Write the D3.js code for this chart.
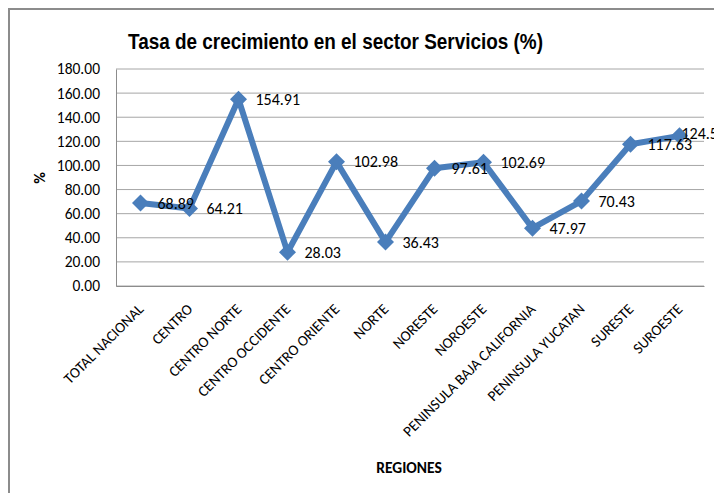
<!DOCTYPE html>
<html>
<head>
<meta charset="utf-8">
<script src="https://cdn.jsdelivr.net/npm/d3@7"></script>
<style>
	body { margin: 0; background: #fff; }
	text { font-family: Carlito, Lato, "Open Sans", sans-serif; fill: #000; }
	.grid line { stroke: #a6a6a6; stroke-width: 1; }
</style>
</head>
<body>
<svg width="714" height="493"></svg>
<script>
	var regiones = ['TOTAL NACIONAL', 'CENTRO', 'CENTRO NORTE', 'CENTRO OCCIDENTE', 'CENTRO ORIENTE',
		'NORTE', 'NORESTE', 'NOROESTE', 'PENINSULA BAJA CALIFORNIA', 'PENINSULA YUCATAN', 'SURESTE', 'SUROESTE'];
	var tasas = [68.89, 64.21, 154.91, 28.03, 102.98, 36.43, 97.61, 102.69, 47.97, 70.43, 117.63, 124.56];
	var yTicks = [0, 20, 40, 60, 80, 100, 120, 140, 160, 180];

	var svg = d3.select('svg');
	var plotLeft = 116, plotRight = 704, plotTop = 69, plotBottom = 286;

	// chart border (runs off the right / bottom edge like the original)
	svg.append('rect')
		.attr('x', 9).attr('y', 9)
		.attr('width', 720).attr('height', 500)
		.attr('fill', 'none')
		.attr('stroke', '#8c8c8c')
		.attr('stroke-width', 2);

	var x = d3.scaleBand().domain(regiones).range([plotLeft, plotRight]);
	var y = d3.scaleLinear().domain([0, 180]).range([plotBottom, plotTop]);

	// gridlines
	svg.append('g').attr('class', 'grid')
		.selectAll('line')
		.data(yTicks)
		.enter()
		.append('line')
		.attr('x1', plotLeft).attr('x2', plotRight)
		.attr('y1', function(d) { return y(d); })
		.attr('y2', function(d) { return y(d); });

	// y axis
	var yAxis = svg.append('g')
		.attr('transform', 'translate(' + plotLeft + ',0)')
		.call(d3.axisLeft(y).tickValues(yTicks).tickSize(0).tickPadding(16).tickFormat(d3.format('.2f')));
	yAxis.select('.domain').attr('stroke', '#8c8c8c');
	yAxis.selectAll('text').style('font-size', '15.5px').attr('fill', '#000');

	// x axis
	var xAxis = svg.append('g')
		.attr('transform', 'translate(0,' + plotBottom + ')')
		.call(d3.axisBottom(x).tickSize(0).tickFormat(''));
	xAxis.select('.domain').attr('stroke', '#8c8c8c');

	svg.append('g')
		.selectAll('text')
		.data(regiones)
		.enter()
		.append('text')
		.attr('transform', function(d) {
			return 'translate(' + (x(d) + x.bandwidth() / 2 + 4) + ',' + (plotBottom + 24) + ') rotate(-45)';
		})
		.attr('text-anchor', 'end')
		.style('font-size', '15px')
		.text(function(d) { return d; });

	// line + markers
	var pts = regiones.map(function(r, i) { return [x(r) + x.bandwidth() / 2, y(tasas[i]), tasas[i]]; });

	svg.append('path')
		.datum(pts)
		.attr('fill', 'none')
		.attr('stroke', '#4a7ebb')
		.attr('stroke-width', 6)
		.attr('stroke-linejoin', 'round')
		.attr('d', d3.line().x(function(d) { return d[0]; }).y(function(d) { return d[1]; }));

	svg.append('g')
		.selectAll('path')
		.data(pts)
		.enter()
		.append('path')
		.attr('transform', function(d) { return 'translate(' + d[0] + ',' + d[1] + ')'; })
		.attr('d', 'M0,-8.5L8.5,0L0,8.5L-8.5,0Z')
		.attr('fill', '#4a7ebb');

	// data labels (the last one is pushed left, as in the original)
	svg.append('g')
		.selectAll('text')
		.data(pts)
		.enter()
		.append('text')
		.attr('x', function(d, i) { return d[0] + (i === pts.length - 1 ? 2 : 17); })
		.attr('y', function(d, i) { return d[1] - (i === pts.length - 1 ? 2 : 0); })
		.attr('dy', '0.35em')
		.style('font-size', '16px')
		.text(function(d) { return d3.format('.2f')(d[2]); });

	// titles
	svg.append('text')
		.attr('x', 128).attr('y', 49)
		.attr('textLength', 415)
		.attr('lengthAdjust', 'spacingAndGlyphs')
		.style('font-family', '"Liberation Sans Narrow", "Arial Narrow", "Liberation Sans", Arial, sans-serif')
		.style('font-weight', 'bold')
		.style('font-size', '22px')
		.text('Tasa de crecimiento en el sector Servicios (%)');

	svg.append('text')
		.attr('transform', 'translate(45,178) rotate(-90)')
		.attr('text-anchor', 'middle')
		.style('font-weight', 'bold')
		.style('font-size', '16px')
		.text('%');

	svg.append('text')
		.attr('x', 409).attr('y', 473)
		.attr('text-anchor', 'middle')
		.style('font-weight', 'bold')
		.style('font-size', '15.5px')
		.text('REGIONES');
</script>
</body>
</html>
